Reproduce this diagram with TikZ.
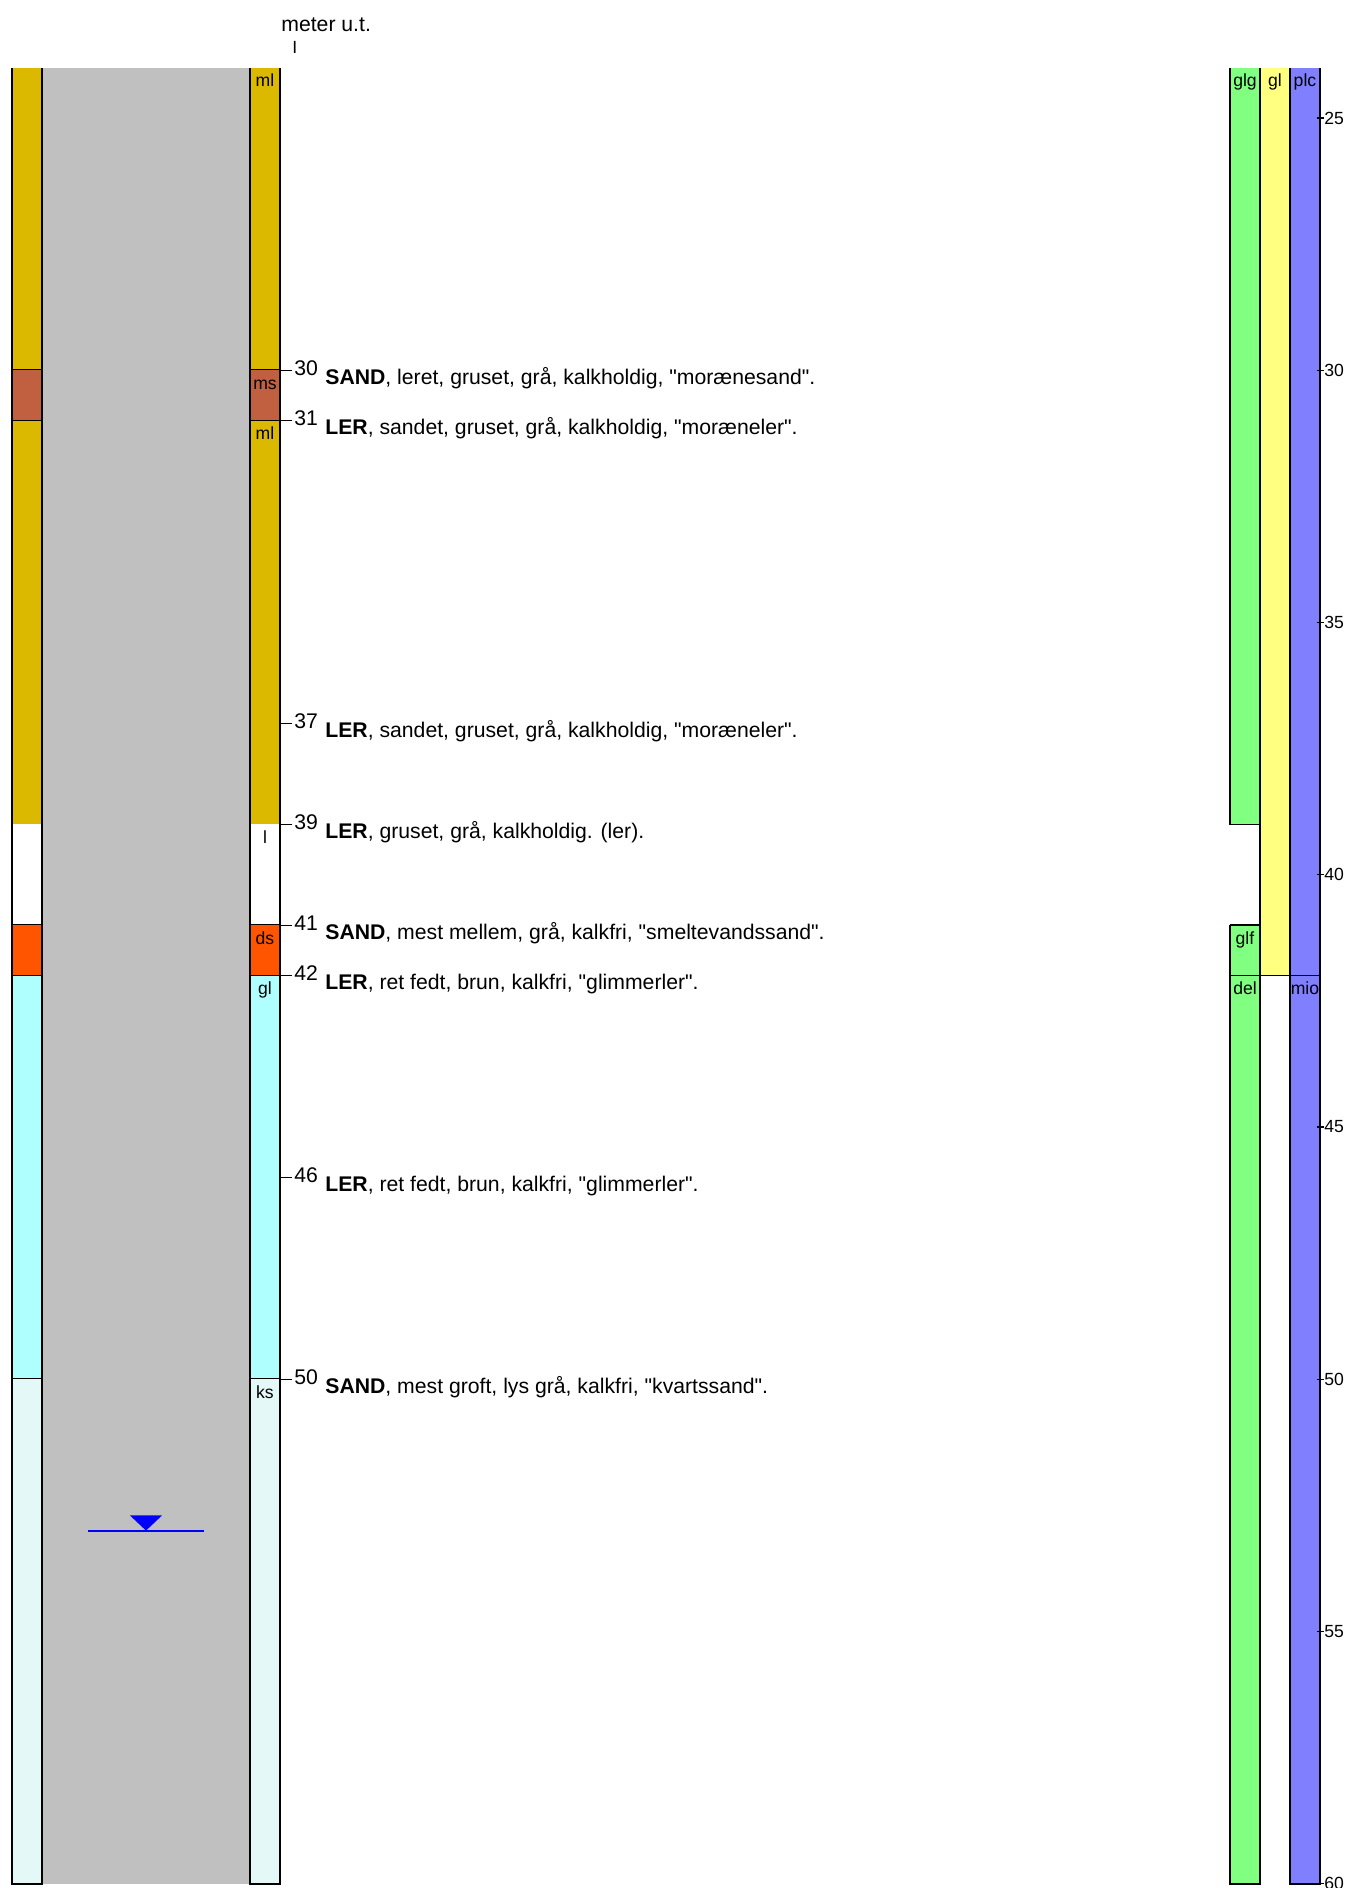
\documentclass[tikz,border=0pt]{standalone}
\usepackage{fontspec}
\setmainfont[Ligatures=TeXOff]{Liberation Sans}
\usetikzlibrary{positioning}
\definecolor{fml}{RGB}{218,185,0}
\definecolor{fms}{RGB}{192,96,64}
\definecolor{fl}{RGB}{255,255,255}
\definecolor{fds}{RGB}{255,85,0}
\definecolor{fgl}{RGB}{176,255,255}
\definecolor{fks}{RGB}{227,248,247}
\definecolor{gra}{RGB}{192,192,192}
\definecolor{grn}{RGB}{128,255,128}
\definecolor{gul}{RGB}{255,255,128}
\definecolor{bla}{RGB}{128,128,255}
\tikzset{
  lag/.style={line width=0.8pt},
  kode/.style={font=\fontsize{8.8}{10}\selectfont,anchor=base,inner sep=0pt,yshift=-9.5pt},
  nummer/.style={anchor=base west,inner sep=0pt,yshift=-2.5pt},
  beskr/.style={anchor=base west,inner sep=0pt,yshift=-7pt},
  skala/.style={font=\fontsize{8.8}{10}\selectfont,anchor=west,inner sep=0pt}
}
\begin{document}
\begin{tikzpicture}[x=0.5pt,y=-25.225pt,font=\fontsize{10.6}{12}\selectfont]

  \useasboundingbox (0,22.661) rectangle (1348,60.085);
  \fill[gra] (42,24) rectangle (250,60);

  \foreach \ot/\ub/\farve/\kode in {24/30/fml/ml,30/31/fms/ms,31/39/fml/ml,39/41/fl/l,41/42/fds/ds,42/50/fgl/gl,50/60/fks/ks}{
    \fill[\farve] (12,\ot) rectangle (42,\ub);
    \fill[\farve] (250,\ot) rectangle (280,\ub);
    \draw[lag] (12,\ot) -- (12,\ub) -- (42,\ub) -- (42,\ot);
    \draw[lag] (250,\ot) -- (250,\ub) -- (280,\ub) -- (280,\ot);
    \node[kode] (k\ot) at (265,\ot) {\kode};
  }

  \node[anchor=base west,inner sep=0pt] (mut) at (281,23.276) {meter u.t.};
  \node[font=\fontsize{8.8}{10}\selectfont,anchor=base west,inner sep=0pt] (ref) at (292,23.712) {I};

  \foreach \d/\txt in {30/{\textbf{SAND}, leret, gruset, grå, kalkholdig, "morænesand".},
    31/{\textbf{LER}, sandet, gruset, grå, kalkholdig, "moræneler".},
    37/{\textbf{LER}, sandet, gruset, grå, kalkholdig, "moræneler".},
    39/{\textbf{LER}, gruset, grå, kalkholdig. (ler).},
    41/{\textbf{SAND}, mest mellem, grå, kalkfri, "smeltevandssand".},
    42/{\textbf{LER}, ret fedt, brun, kalkfri, "glimmerler".},
    46/{\textbf{LER}, ret fedt, brun, kalkfri, "glimmerler".},
    50/{\textbf{SAND}, mest groft, lys grå, kalkfri, "kvartssand".}}{
    \draw[line width=0.6pt] (280,\d) -- (292,\d);
    \node[nummer] (n\d) at (294,\d) {\d};
    \node[beskr] (b\d) at (325,\d) {\txt};
  }

  \draw[blue,line width=1pt] (88,53) -- (204,53);
  \fill[blue] (130,52.70) -- (162,52.70) -- (146,53) -- cycle;

  \foreach \xa/\ot/\ub/\farve/\kode in {1230/24/39/grn/glg,1230/41/42/grn/glf,1230/42/60/grn/del,1260/24/42/gul/gl,1290/24/42/bla/plc,1290/42/60/bla/mio}{
    \fill[\farve] (\xa,\ot) rectangle (\xa+30,\ub);
    \draw[lag] (\xa,\ot) -- (\xa,\ub) -- (\xa+30,\ub) -- (\xa+30,\ot);
    \node[kode] (c\kode) at (\xa+15,\ot) {\kode};
  }
  \draw[lag] (1230,41) -- (1260,41);

  \foreach \d in {25,30,...,60}{
    \draw[line width=0.6pt] (1317,\d) -- (1324,\d);
    \node[skala] (s\d) at (1324,\d) {\d};
  }

\end{tikzpicture}
\end{document}
